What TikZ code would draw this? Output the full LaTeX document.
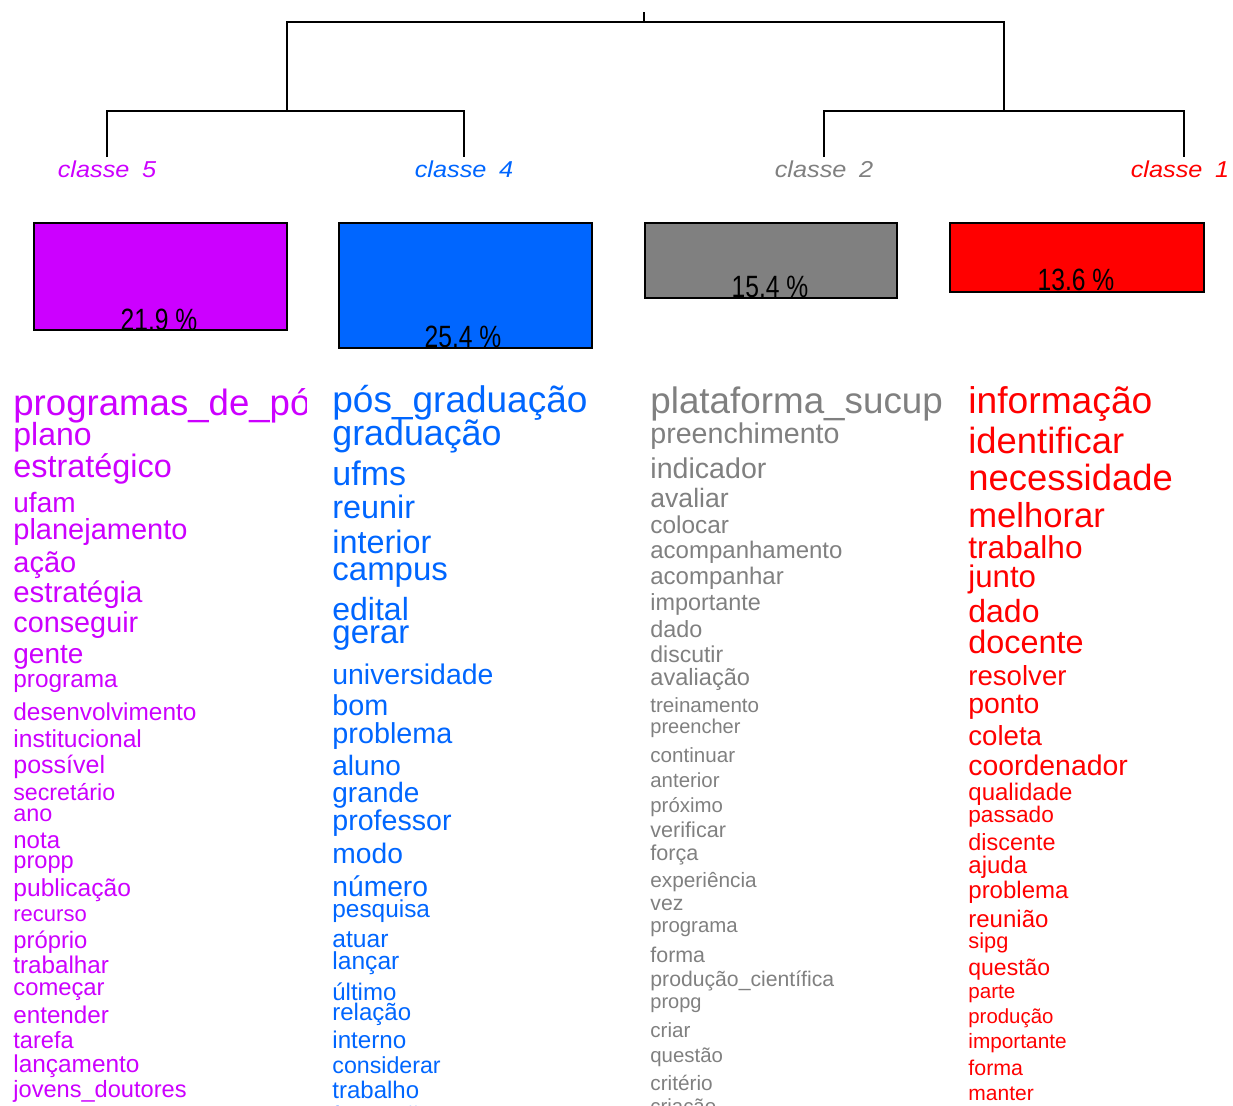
\documentclass[tikz,border=0pt]{standalone}
\usepackage{fontspec}
\setmainfont{Liberation Sans}
\newfontfamily\pctfont[FakeStretch=0.8]{Liberation Sans}
\newfontfamily\labfont[FakeStretch=1.1]{Liberation Sans}
\definecolor{cmag}{HTML}{CC00FF}
\definecolor{cblue}{HTML}{0066FF}
\definecolor{cgrey}{HTML}{808080}
\definecolor{cred}{HTML}{FF0000}
\tikzset{
  tree/.style={line width=1pt, black},
  bar/.style={draw=black, line width=1pt},
  pct/.style={anchor=base, inner sep=0pt, font=\pctfont\fontsize{15.4pt}{15.4pt}\selectfont},
  lab/.style={anchor=base, inner sep=0pt, font=\labfont\itshape\fontsize{11.5pt}{11.5pt}\selectfont},
  wrd/.style={anchor=base west, inner sep=0pt, font=\fontsize{#1}{#1}\selectfont}
}
\begin{document}
\begin{tikzpicture}[x=0.5pt, y=-0.5pt]
\useasboundingbox (0,0) rectangle (1233,1105);

% dendrogram
\coordinate (rtop) at (644,12);
\coordinate (rj)   at (644,22);
\coordinate (m54)  at (287,111);
\coordinate (m21)  at (1004,111);
\coordinate (l5)   at (107,157);
\coordinate (l4)   at (464,157);
\coordinate (l2)   at (824,157);
\coordinate (l1)   at (1184,157);
\draw[tree] (rtop) -- (rj);
\draw[tree] (m54) |- (rj) -| (m21);
\draw[tree] (l5) |- (m54) -| (l4);
\draw[tree] (l2) |- (m21) -| (l1);

% class labels
\node[lab, text=cmag]  (c5) at (107,177)  {classe\hspace{0.55em}5};
\node[lab, text=cblue] (c4) at (464,177)  {classe\hspace{0.55em}4};
\node[lab, text=cgrey] (c2) at (824,177)  {classe\hspace{0.55em}2};
\node[lab, text=cred]  (c1) at (1180,177) {classe\hspace{0.55em}1};

% class size bars
\path[bar, fill=cmag]  (34,223)  rectangle (287,330);
\path[bar, fill=cblue] (339,223) rectangle (592,348);
\path[bar, fill=cgrey] (645,223) rectangle (897,298);
\path[bar, fill=cred]  (950,223) rectangle (1204,292);
\node[pct] (p5) at (159,330)  {21.9 \%};
\node[pct] (p4) at (463,347)  {25.4 \%};
\node[pct] (p2) at (770,297)  {15.4 \%};
\node[pct] (p1) at (1076,290) {13.6 \%};

% first word of columns 1 and 3 is cut at the column edge
\begin{scope}
  \clip (0,370) rectangle (306,430);
  \node[wrd=18.3pt, text=cmag] (a0) at (13,415) {programas\_de\_pós\_graduação};
\end{scope}
\begin{scope}
  \clip (640,370) rectangle (943,430);
  \node[wrd=18.4pt, text=cgrey] (c0) at (650,413) {plataforma\_sucupira};
\end{scope}

% column of class 5
\foreach \y/\s/\t [count=\i] in {
  445/16/plano, 477/16.2/estratégico, 512/14/ufam, 539/14.5/planejamento,
  572/14.5/ação, 602/14.7/estratégia, 632/14.4/conseguir, 663/14/gente,
  687/12.2/programa, 720/12.2/desenvolvimento, 747/12.3/institucional,
  773/12.5/possível, 800/11.6/secretário, 821/11.7/ano, 848/12/nota,
  868/11.8/propp, 896/12.3/publicação, 921/11/recurso, 948/11.9/próprio,
  973/12.1/trabalhar, 995/11.9/começar, 1023/12.1/entender, 1048/11.8/tarefa,
  1072/12.2/lançamento, 1097/11.8/jovens\_doutores}
  \node[wrd=\s pt, text=cmag] (a\i) at (13,\y) {\t};

% column of class 4
\foreach \y/\s/\t [count=\i] in {
  412/18.5/pós\_graduação, 445/17.9/graduação, 485/17/ufms, 518/16.2/reunir,
  553/16.2/interior, 580/16.5/campus, 620/16/edital, 643/16.5/gerar,
  684/14.2/universidade, 715/14.4/bom, 743/14.4/problema, 775/14/aluno,
  802/14/grande, 830/14.3/professor, 863/14.1/modo, 896/14.1/número,
  917/12.2/pesquisa, 947/12.3/atuar, 969/12.3/lançar, 1000/12/último,
  1020/12/relação, 1048/12.1/interno, 1073/11.6/considerar, 1098/12/trabalho,
  1123/12/formação}
  \node[wrd=\s pt, text=cblue] (b\i) at (332,\y) {\t};

% column of class 2
\foreach \y/\s/\t [count=\i] in {
  443/14.3/preenchimento, 478/14.3/indicador, 507/13.3/avaliar,
  533/12.2/colocar, 558/12/acompanhamento, 584/12/acompanhar,
  610/11.7/importante, 637/11.7/dado, 662/11.5/discutir, 685/11.8/avaliação,
  712/10.3/treinamento, 733/10/preencher, 762/10.3/continuar,
  787/10.2/anterior, 812/10.2/próximo, 837/10.8/verificar, 860/10.8/força,
  887/10.4/experiência, 910/10.6/vez, 932/10.2/programa, 962/10.7/forma,
  986/10.6/produção\_científica, 1008/10/propg, 1037/10.3/criar,
  1062/10.2/questão, 1090/10.4/critério, 1113/10.2/criação}
  \node[wrd=\s pt, text=cgrey] (c\i) at (650,\y) {\t};

% column of class 1
\foreach \y/\s/\t [count=\i] in {
  413/18.6/informação, 453/18.2/identificar, 490/18.2/necessidade,
  527/17.3/melhorar, 558/15.8/trabalho, 587/15.6/junto, 622/16/dado,
  653/16.2/docente, 685/13.8/resolver, 713/14.2/ponto, 745/13.8/coleta,
  775/14.2/coordenador, 800/12/qualidade, 822/11.3/passado,
  850/11.7/discente, 873/12/ajuda, 898/12/problema, 927/12/reunião,
  948/10.9/sipg, 975/11.5/questão, 998/10.3/parte, 1023/10.2/produção,
  1048/10.4/importante, 1075/10.7/forma, 1100/10.5/manter}
  \node[wrd=\s pt, text=cred] (d\i) at (968,\y) {\t};
\end{tikzpicture}
\end{document}
